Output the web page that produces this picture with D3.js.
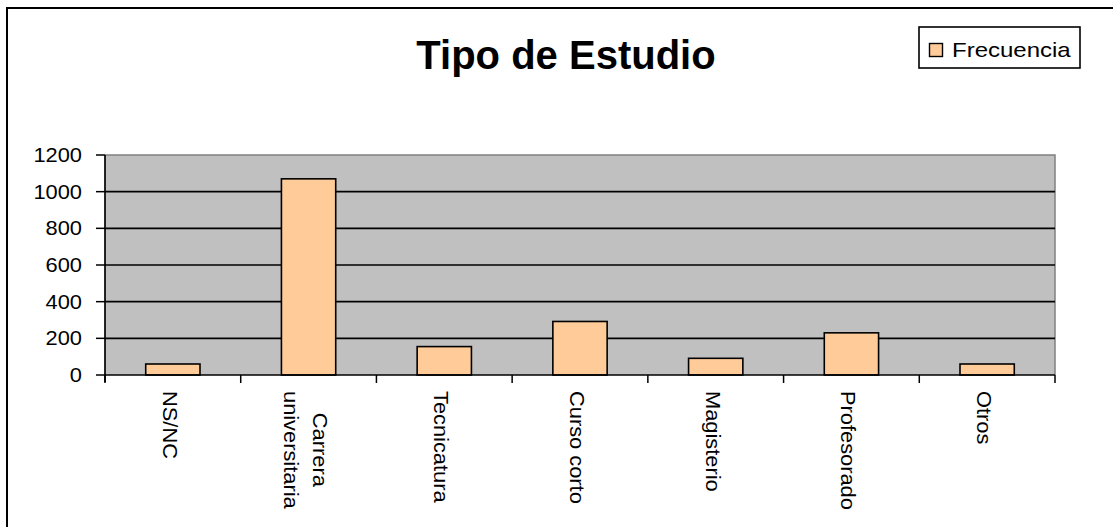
<!DOCTYPE html>
<html><head><meta charset="utf-8">
<script src="https://cdn.jsdelivr.net/npm/d3@7"></script>
<style>body{margin:0;background:#fff}svg{display:block}text{font-family:"Liberation Sans",Arial,sans-serif;fill:#000}</style>
</head><body>
<svg id="c" width="1113" height="527"></svg>
<script>
const categories = [["NS/NC"],["Carrera","universitaria"],["Tecnicatura"],["Curso corto"],["Magisterio"],["Profesorado"],["Otros"]];
const values = [60, 1070, 155, 292, 91, 230, 60];
const yTicks = [0,200,400,600,800,1000,1200];
const seriesName = "Frecuencia";
const title = "Tipo de Estudio";

const svg = d3.select("#c");
const L=105,R=1055,T=155,B=375;
const sx = 1.12;

svg.append("rect").attr("x",7).attr("y",8).attr("width",1200).attr("height",600)
  .attr("fill","#fff").attr("stroke","#000").attr("stroke-width",2);

const x = d3.scaleBand().domain(d3.range(categories.length)).range([L,R]).paddingInner(0.6).paddingOuter(0.3);
const y = d3.scaleLinear().domain([0,1200]).range([B,T]);

svg.append("rect").attr("x",L).attr("y",T).attr("width",R-L).attr("height",B-T).attr("fill","#C0C0C0");
svg.append("path").attr("d",`M${L},${T}H${R}V${B}`).attr("fill","none").attr("stroke","#808080").attr("stroke-width",1.5);

svg.append("g").selectAll("line").data(yTicks.filter(v=>v>0&&v<1200)).join("line")
  .attr("x1",L).attr("x2",R).attr("y1",d=>y(d)).attr("y2",d=>y(d)).attr("stroke","#000").attr("stroke-width",1.6);

svg.append("g").selectAll("rect").data(values).join("rect")
  .attr("x",(d,i)=>x(i)).attr("width",x.bandwidth()).attr("y",d=>y(d)).attr("height",d=>B-y(d))
  .attr("fill","#FFCC99").attr("stroke","#000").attr("stroke-width",1.6);

// y axis
const ya = svg.append("g");
ya.append("line").attr("x1",L).attr("x2",L).attr("y1",T).attr("y2",B+7).attr("stroke","#000").attr("stroke-width",1.7);
ya.selectAll("line.t").data(yTicks).join("line").attr("class","t").attr("x1",L-9).attr("x2",L).attr("y1",d=>y(d)).attr("y2",d=>y(d)).attr("stroke","#000").attr("stroke-width",1.5);
ya.selectAll("text").data(yTicks).join("text")
  .attr("transform",d=>`translate(82,${y(d)}) scale(${sx},1)`).attr("dy","0.36em")
  .attr("text-anchor","end").attr("font-size",19.5).text(d=>d);

// x axis
const xa = svg.append("g");
xa.append("line").attr("x1",L).attr("x2",R).attr("y1",B).attr("y2",B).attr("stroke","#000").attr("stroke-width",1.7);
const bounds = d3.range(categories.length+1).map(i=>L+i*x.step());
xa.selectAll("line.t").data(bounds).join("line").attr("class","t").attr("x1",d=>d).attr("x2",d=>d).attr("y1",B).attr("y2",B+8).attr("stroke","#000").attr("stroke-width",1.5);

categories.forEach((lines,i)=>{
  const c = x(i)+x.bandwidth()/2;
  const g = xa.append("g").attr("transform",`translate(${c},391) rotate(90) scale(${sx},1)`);
  const n = lines.length;
  const ts = lines.map((s,k)=>g.append("text").attr("font-size",19.5)
     .attr("y",10+(k-(n-1)/2)*28.7).text(s));
  if(n>1){
    const mx = d3.max(ts,t=>t.node().getComputedTextLength());
    ts.forEach(t=>t.attr("x",mx/2).attr("text-anchor","middle"));
  }
});

// title
svg.append("text").attr("x",566).attr("y",69).attr("text-anchor","middle")
  .attr("font-size",40).attr("font-weight","bold").text(title);

// legend
const lg = svg.append("g");
lg.append("rect").attr("x",919).attr("y",27).attr("width",161).attr("height",41).attr("fill","#fff").attr("stroke","#000").attr("stroke-width",1.6);
lg.append("rect").attr("x",929.5).attr("y",43.5).attr("width",13).attr("height",13).attr("fill","#FFCC99").attr("stroke","#000").attr("stroke-width",1.4);
lg.append("text").attr("transform",`translate(952,57.3) scale(1.2,1)`).attr("font-size",20).text(seriesName);
</script>
</body></html>
